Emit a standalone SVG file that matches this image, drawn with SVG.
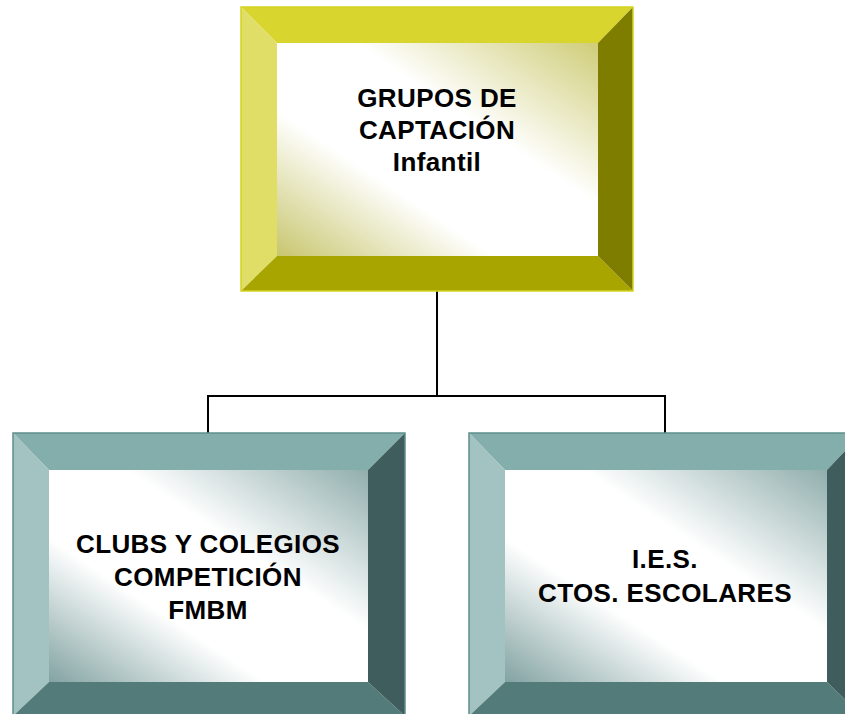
<svg xmlns="http://www.w3.org/2000/svg" width="845" height="714" viewBox="0 0 845 714">
<defs>
<linearGradient id="gy" x1="1" y1="0" x2="0" y2="1">
<stop offset="0" stop-color="#CFCD78"/>
<stop offset="0.38" stop-color="#FFFFFF"/>
<stop offset="0.66" stop-color="#FFFFFF"/>
<stop offset="1" stop-color="#C8C66E"/>
</linearGradient>
<linearGradient id="gt" x1="1" y1="0" x2="0" y2="1">
<stop offset="0" stop-color="#90AEAD"/>
<stop offset="0.38" stop-color="#FFFFFF"/>
<stop offset="0.66" stop-color="#FFFFFF"/>
<stop offset="1" stop-color="#82A3A2"/>
</linearGradient>
</defs>
<style>
.t{font-family:"Liberation Sans",Arial,sans-serif;font-weight:bold;font-size:26px;letter-spacing:0.4px;fill:#000;text-anchor:middle}
.y1{fill:#D8D52F}.y2{fill:#E0DE66}.y3{fill:#A8A500}.y4{fill:#7F7D00}
.c1{fill:#84AEAC}.c2{fill:#A2C3C2}.c3{fill:#527B7A}.c4{fill:#3E5D5C}
.oy{fill:none;stroke:#D4D320;stroke-width:1.5}
.ot{fill:none;stroke:#5E8E8C;stroke-width:1.5}
.conn{fill:none;stroke:#000;stroke-width:2}
</style>
<g id="connectors">
<path class="conn" d="M437,291 V396 M208,396 H665 M208,395 V433 M665,395 V433"/>
</g>
<g id="top">
<polygon class="y1" points="241,7 633,7 598,43 277,43"/>
<polygon class="y2" points="241,7 277,43 277,256 241,291"/>
<polygon class="y3" points="241,291 277,256 598,256 633,291"/>
<polygon class="y4" points="633,7 633,291 598,256 598,43"/>
<rect x="277" y="43" width="321" height="213" fill="url(#gy)"/>
<rect class="oy" x="241" y="7" width="392" height="284"/>
<text class="t" x="437" y="107">GRUPOS DE</text>
<text class="t" x="437" y="139">CAPTACIÓN</text>
<text class="t" x="437" y="171">Infantil</text>
</g>
<g id="left">
<polygon class="c1" points="13,433 405,433 368,470 49,470"/>
<polygon class="c2" points="13,433 49,470 49,682 13,716"/>
<polygon class="c3" points="13,716 49,682 368,682 405,716"/>
<polygon class="c4" points="405,433 405,716 368,682 368,470"/>
<rect x="49" y="470" width="319" height="212" fill="url(#gt)"/>
<rect class="ot" x="13" y="433" width="392" height="283"/>
<text class="t" x="208" y="553">CLUBS Y COLEGIOS</text>
<text class="t" x="208" y="586">COMPETICIÓN</text>
<text class="t" x="208" y="619">FMBM</text>
</g>
<g id="right">
<polygon class="c1" points="469,433 862,433 827,470 505,470"/>
<polygon class="c2" points="469,433 505,470 505,682 469,716"/>
<polygon class="c3" points="469,716 505,682 827,682 862,716"/>
<polygon class="c4" points="862,433 862,716 827,682 827,470"/>
<rect x="505" y="470" width="322" height="212" fill="url(#gt)"/>
<rect class="ot" x="469" y="433" width="393" height="283"/>
<text class="t" x="665" y="568">I.E.S.</text>
<text class="t" x="665" y="602">CTOS. ESCOLARES</text>
</g>
</svg>
